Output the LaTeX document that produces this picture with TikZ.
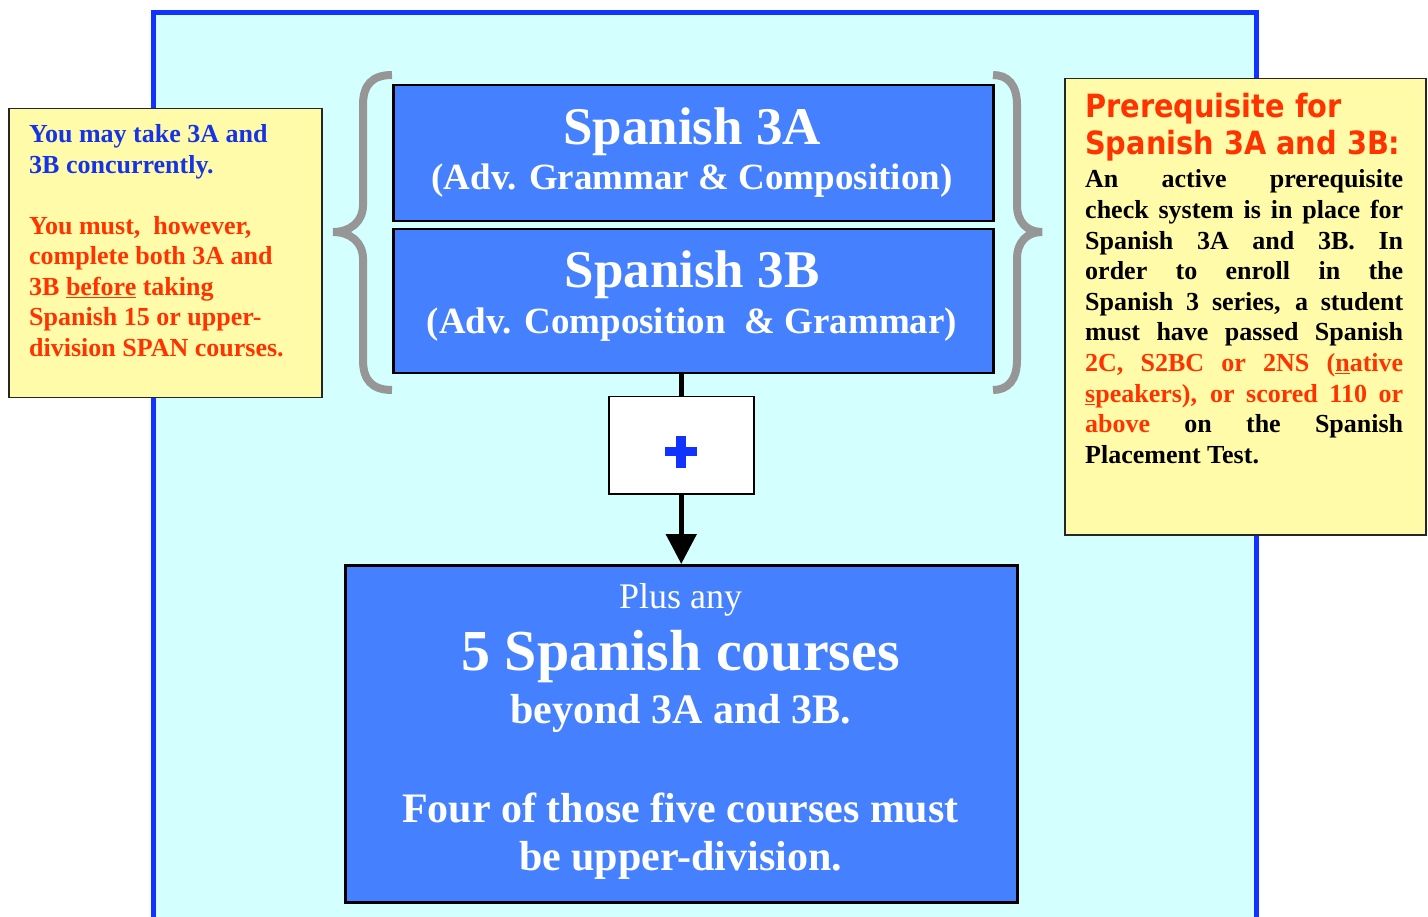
\documentclass[tikz,border=0pt]{standalone}
\usepackage{fontspec}
\usepackage{graphicx}
\setmainfont{Liberation Serif}
\newfontfamily\hdfont{DejaVu Sans}
\usetikzlibrary{arrows.meta}
\definecolor{bgcyan}{RGB}{212,255,255}
\definecolor{framebl}{RGB}{17,51,255}
\definecolor{boxbl}{RGB}{69,128,255}
\definecolor{noteyel}{RGB}{255,251,168}
\definecolor{tred}{RGB}{255,51,0}
\definecolor{tblue}{RGB}{22,52,230}
\definecolor{bracegray}{RGB}{150,150,150}
\definecolor{plusbl}{RGB}{17,51,255}
\tikzset{
  coursebox/.style={draw=black, line width=2.5pt, fill=boxbl, inner sep=0pt, anchor=north west},
  notebox/.style={draw=black!85, line width=1.5pt, fill=noteyel, inner sep=0pt, anchor=north west},
  plusbox/.style={draw=black, line width=1.5pt, fill=white, inner sep=0pt, anchor=north west},
  wtext/.style={text=white, inner sep=0pt, anchor=base},
  brace/.style={draw=bracegray, line width=8pt},
  link/.style={draw=black, line width=5pt}
}
\begin{document}
\begin{tikzpicture}[x=1pt,y=-1pt]
\useasboundingbox (0,0) rectangle (1428,917);
\fill[white] (0,0) rectangle (1428,917);
\clip (0,0) rectangle (1428,917);
% outer frame
\draw[draw=framebl, fill=bgcyan, line width=5pt] (153.5,13) rectangle (1256.5,960);

% course boxes
\node[coursebox, minimum width=600pt, minimum height=136pt] (b3a) at (392,84) {};
\node[coursebox, minimum width=600pt, minimum height=144pt] (b3b) at (392,228) {};
\node[plusbox, minimum width=145pt, minimum height=97pt] (plus) at (608,396) {};
\node[coursebox, minimum width=672pt, minimum height=337pt] (b5) at (344,564) {};

% plus sign
\fill[plusbl] (plus.center) ++(-16,2) rectangle ++(32,9);
\fill[plusbl] (plus.center) ++(-5,-9.5) rectangle ++(10,32);

% connectors
\draw[link] (plus.north |- b3b.south) -- (plus.north);
\draw[link, -{Triangle[width=30pt,length=30pt]}] (plus.south) -- (plus.south |- b5.north);

% braces
\draw[brace] (392,75) .. controls (372,75) and (363,85) .. (363,105) -- (363,205)
  .. controls (363,222) and (350,232) .. (333,232)
  .. controls (350,232) and (363,242) .. (363,259) -- (363,360)
  .. controls (363,380) and (372,390) .. (392,390);
\draw[brace] (993,75) .. controls (1008,75) and (1017,85) .. (1017,105) -- (1017,205)
  .. controls (1017,222) and (1027,232) .. (1042,232)
  .. controls (1027,232) and (1017,242) .. (1017,259) -- (1017,360)
  .. controls (1017,380) and (1008,390) .. (993,390);

% course texts
\node[wtext, font=\bfseries\fontsize{53}{60}\selectfont] (t3a) at (692,145) {Spanish 3A};
\node[wtext, font=\bfseries\fontsize{37}{42}\selectfont] (s3a) at (692,190) {(Adv. Grammar \& Composition)};
\node[wtext, font=\bfseries\fontsize{53}{60}\selectfont] (t3b) at (692,288) {Spanish 3B};
\node[wtext, font=\bfseries\fontsize{37}{42}\selectfont] (s3b) at (692,334) {(Adv. Composition\ \ \& Grammar)};

\node[wtext, font=\fontsize{36}{40}\selectfont] (plusany) at (680.5,608) {Plus any};
\node[wtext, font=\bfseries\fontsize{58}{62}\selectfont] (five) at (680.5,670) {5 Spanish courses};
\node[wtext, font=\bfseries\fontsize{42}{48}\selectfont] (beyond) at (680.5,723) {beyond 3A and 3B.};
\node[wtext, font=\bfseries\fontsize{42}{48}\selectfont] (four) at (680.5,822)
  {\parbox[t]{660pt}{\centering Four of those five courses must\\ be upper-division.}};

% left note
\node[notebox, minimum width=313pt, minimum height=289pt] (lnote) at (8,108) {};
\node[inner sep=0pt, anchor=base west, font=\bfseries\fontsize{26}{30.5}\selectfont] (ltext) at (29,143)
  {\parbox[t]{290pt}{\raggedright\leavevmode
   {\color{tblue}You may take 3A and\\ 3B concurrently.}\\[30.5pt]
   \color{tred}You must,\ \ however,\\ complete both 3A and\\ 3B \underline{before} taking\\ Spanish 15 or upper-\\ division SPAN courses.}};

% right note
\node[notebox, minimum width=361pt, minimum height=456pt] (rnote) at (1064,78) {};
\node[inner sep=0pt, anchor=base west, text=tred] (rhead) at (1085,118)
  {\parbox[t]{330pt}{\hdfont\bfseries\fontsize{32}{37}\selectfont
   \scalebox{0.9}[1]{Prerequisite for}\\ \scalebox{0.9}[1]{Spanish 3A and 3B:}}};
\node[inner sep=0pt, anchor=base west, font=\bfseries\fontsize{26}{30.6}\selectfont] (rtext) at (1085,188)
  {\parbox[t]{318pt}{%
   \makebox[318pt][s]{An active prerequisite}\\
   \makebox[318pt][s]{check system is in place for}\\
   \makebox[318pt][s]{Spanish 3A and 3B. In}\\
   \makebox[318pt][s]{order to enroll in the}\\
   \makebox[318pt][s]{Spanish 3 series, a student}\\
   \makebox[318pt][s]{must have passed Spanish}\\
   \makebox[318pt][s]{\color{tred}2C, S2BC or 2NS (\underline{n}ative}\\
   \makebox[318pt][s]{\color{tred}\underline{s}peakers), or scored 110 or}\\
   \makebox[318pt][s]{{\color{tred}above} on the Spanish}\\
   Placement Test.}};
\end{tikzpicture}
\end{document}
